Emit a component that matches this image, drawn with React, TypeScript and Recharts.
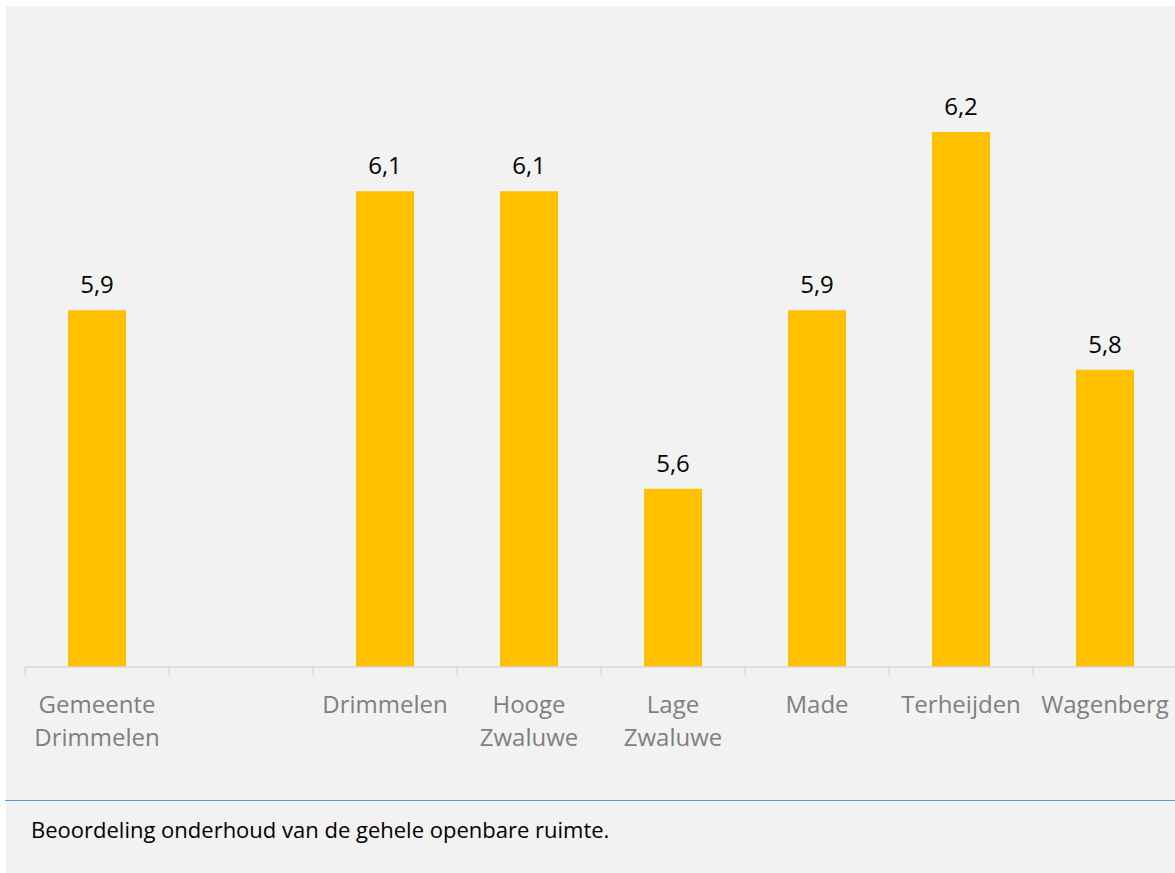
import { BarChart, Bar, XAxis, YAxis, LabelList } from "recharts";

// ── Data ─────────────────────────────────────────────────────────────

const categories = [
  "Gemeente Drimmelen",
  "",
  "Drimmelen",
  "Hooge Zwaluwe",
  "Lage Zwaluwe",
  "Made",
  "Terheijden",
  "Wagenberg",
];

const scores: (number | null)[] = [5.9, null, 6.1, 6.1, 5.6, 5.9, 6.2, 5.8];

const caption = "Beoordeling onderhoud van de gehele openbare ruimte.";

const data = categories.map((name, i) => ({ name, score: scores[i] }));

// ── Layout ───────────────────────────────────────────────────────────

const WIDTH = 1175;
const HEIGHT = 873;
const PLOT_LEFT = 25;
const PLOT_W = 1152;
const BAND = PLOT_W / categories.length;
const FONT = "'Open Sans', 'Noto Sans', sans-serif";

function CategoryTick(props: any) {
  const { x, y, payload } = props;
  const words = String(payload.value).split(" ").filter(Boolean);
  // two-word names wrap like the original
  const lines = words.length > 1 ? [words[0], words.slice(1).join(" ")] : words;
  return (
    <g>
      <line
        x1={x - BAND / 2}
        y1={y}
        x2={x - BAND / 2}
        y2={y + 9}
        stroke="#d9d9d9"
        strokeWidth={1.5}
      />
      <text
        x={x}
        y={y}
        textAnchor="middle"
        fill="#7f7f7f"
        fontSize={24}
        fontFamily={FONT}
      >
        {lines.map((l, i) => (
          <tspan key={i} x={x} y={y + 46 + i * 33}>
            {l}
          </tspan>
        ))}
      </text>
    </g>
  );
}

export default function App() {
  return (
    <div
      style={{
        position: "absolute",
        left: 0,
        top: 0,
        width: WIDTH,
        height: HEIGHT,
        background: "#ffffff",
        overflow: "hidden",
        fontFamily: FONT,
      }}
    >
      <div
        style={{
          position: "absolute",
          left: 6,
          top: 6,
          width: WIDTH - 6,
          height: HEIGHT - 6,
          background: "#f2f2f2",
        }}
      />
      <div style={{ position: "absolute", left: 0, top: 0 }}>
        <BarChart
          width={PLOT_LEFT + PLOT_W}
          height={800}
          data={data}
          margin={{ top: 13, right: 0, left: PLOT_LEFT, bottom: 0 }}
          barSize={58}
        >
          <XAxis
            dataKey="name"
            height={133}
            interval={0}
            tickLine={false}
            tickSize={0}
            tickMargin={0}
            axisLine={{ stroke: "#d9d9d9", strokeWidth: 1.5 }}
            tick={<CategoryTick />}
          />
          <YAxis hide domain={[5.3, 6.4]} allowDataOverflow />
          <Bar dataKey="score" fill="#ffc000" isAnimationActive={false}>
            <LabelList
              dataKey="score"
              position="top"
              offset={17}
              fill="#000000"
              fontSize={24}
              fontFamily={FONT}
              formatter={(v: any) =>
                v == null ? "" : Number(v).toFixed(1).replace(".", ",")
              }
            />
          </Bar>
        </BarChart>
      </div>
      <div
        style={{
          position: "absolute",
          left: 5,
          top: 799.5,
          width: WIDTH - 5,
          height: 1.2,
          background: "#5b9bd5",
        }}
      />
      <div
        style={{
          position: "absolute",
          left: 31,
          top: 814,
          fontSize: 22,
          lineHeight: "30px",
          color: "#000000",
          whiteSpace: "nowrap",
        }}
      >
        {caption}
      </div>
    </div>
  );
}
